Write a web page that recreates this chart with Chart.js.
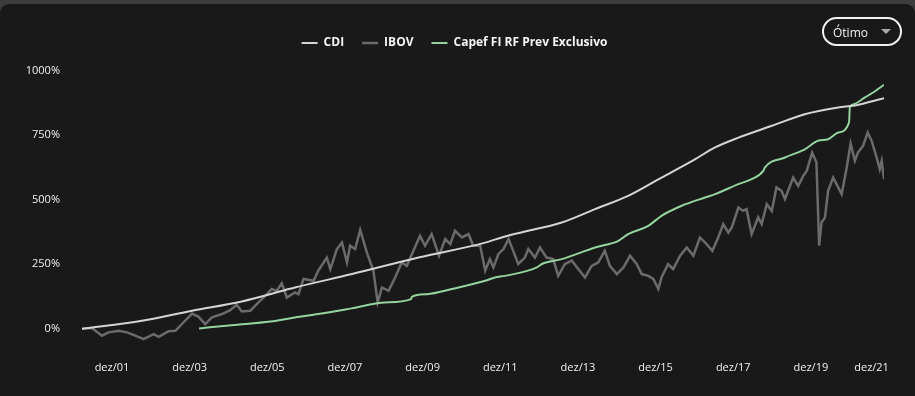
<!DOCTYPE html>
<html>
<head>
<meta charset="utf-8">
<script src="https://cdn.jsdelivr.net/npm/chart.js@4.4.0/dist/chart.umd.min.js"></script>
<style>
  html, body { margin: 0; padding: 0; background: #3d3d3d; width: 915px; height: 396px; overflow: hidden; }
  #panel { position: absolute; left: 0; top: 4px; width: 915px; height: 400px; background: #191919; border-radius: 9px 9px 0 0; }
  #wrap { position: absolute; left: 0; top: 0; width: 915px; height: 396px; }
  #sel { position: absolute; left: 822px; top: 17px; width: 76px; height: 25px; border: 2px solid #f2f2f2; border-radius: 15px;
         font-family: "Open Sans", sans-serif; font-size: 12px; color: #f2f2f2; box-sizing: content-box; }
  #sel span { position: absolute; left: 9px; top: 5px; }
  #sel i { position: absolute; left: 57px; top: 10px; width: 0; height: 0; border-left: 5px solid transparent; border-right: 5px solid transparent; border-top: 5px solid #a8a8a8; }
</style>
</head>
<body>
<div id="panel"></div>
<div id="wrap"><canvas id="c" width="915" height="396"></canvas></div>
<div id="sel"><span>Ótimo</span><i></i></div>
<script>
// ---- data (x = decimal year, y = accumulated return %) ----
const seriesNames = ["CDI", "IBOV", "Capef FI RF Prev Exclusivo"];

const cdiT = [2001.145, 2002.69, 2003.98, 2005.26, 2006.38, 2006.63, 2008.10, 2009.81, 2011.53, 2012.04, 2012.64, 2013.50, 2014.36, 2015.21, 2016.07, 2016.93, 2017.45, 2018.05, 2018.91, 2019.76, 2020.62, 2021.05, 2021.80];
const cdiV = [0, 31, 70, 106, 150, 160, 212, 276, 334, 358, 380, 412, 464, 515, 586, 657, 703, 741, 787, 832, 858, 866, 894];

const ibovT = [2001.145, 2001.40, 2001.66, 2001.83, 2002.09, 2002.30, 2002.52, 2002.73, 2002.99, 2003.12, 2003.37, 2003.55, 2003.80, 2003.98, 2004.15, 2004.32, 2004.49, 2004.75, 2004.96, 2005.13, 2005.26, 2005.48, 2005.69, 2005.91, 2006.03, 2006.16, 2006.29, 2006.42, 2006.63, 2006.72, 2006.85, 2007.11, 2007.23, 2007.45, 2007.54, 2007.71, 2007.84, 2007.97, 2008.05, 2008.18, 2008.31, 2008.48, 2008.65, 2008.76, 2008.87, 2009.04, 2009.21, 2009.38, 2009.51, 2009.68, 2009.85, 2009.98, 2010.15, 2010.34, 2010.50, 2010.63, 2010.75, 2010.93, 2011.10, 2011.22, 2011.40, 2011.53, 2011.65, 2011.74, 2011.87, 2012.00, 2012.13, 2012.25, 2012.38, 2012.55, 2012.64, 2012.81, 2012.94, 2013.11, 2013.28, 2013.41, 2013.58, 2013.76, 2013.93, 2014.10, 2014.27, 2014.44, 2014.61, 2014.74, 2014.92, 2015.09, 2015.26, 2015.43, 2015.56, 2015.73, 2015.86, 2015.99, 2016.07, 2016.24, 2016.37, 2016.55, 2016.72, 2016.89, 2017.06, 2017.23, 2017.38, 2017.53, 2017.66, 2017.79, 2017.88, 2018.05, 2018.17, 2018.26, 2018.39, 2018.56, 2018.65, 2018.78, 2018.91, 2019.03, 2019.16, 2019.25, 2019.46, 2019.59, 2019.72, 2019.81, 2019.95, 2020.06, 2020.13, 2020.19, 2020.28, 2020.36, 2020.49, 2020.62, 2020.71, 2020.84, 2020.94, 2021.05, 2021.13, 2021.26, 2021.38, 2021.48, 2021.61, 2021.69, 2021.74, 2021.80];
const ibovV = [0, 3, -27, -14, -8, -14, -27, -40, -21, -31, -10, -8, 31, 59, 46, 18, 44, 57, 72, 93, 67, 70, 102, 134, 154, 147, 176, 121, 141, 134, 193, 186, 225, 276, 231, 309, 334, 257, 322, 309, 383, 296, 225, 102, 160, 147, 199, 257, 244, 302, 360, 322, 367, 283, 348, 328, 380, 354, 367, 322, 322, 225, 270, 238, 290, 309, 348, 302, 251, 276, 309, 276, 315, 276, 270, 205, 251, 264, 231, 199, 244, 257, 302, 244, 212, 238, 283, 251, 212, 205, 193, 154, 199, 251, 231, 283, 315, 283, 354, 328, 302, 354, 406, 373, 393, 470, 457, 464, 367, 432, 406, 483, 457, 548, 535, 503, 586, 554, 593, 612, 683, 645, 322, 412, 432, 535, 586, 548, 522, 625, 718, 651, 683, 709, 761, 729, 664, 619, 651, 580];

const capefT = [2004.16, 2005.00, 2006.00, 2006.63, 2007.23, 2008.09, 2008.95, 2009.62, 2009.64, 2010.03, 2010.67, 2011.53, 2011.78, 2012.04, 2012.86, 2012.99, 2013.50, 2014.36, 2014.96, 2015.21, 2015.73, 2016.07, 2016.59, 2017.19, 2017.45, 2018.05, 2018.39, 2018.69, 2018.73, 2019.25, 2019.76, 2020.10, 2020.36, 2020.62, 2020.90, 2020.92, 2021.01, 2021.31, 2021.56, 2021.80];
const capefV = [1, 14, 28, 44, 57, 79, 102, 115, 124, 134, 154, 186, 199, 205, 238, 251, 270, 315, 341, 367, 399, 438, 477, 509, 522, 561, 580, 612, 625, 664, 696, 729, 735, 761, 800, 858, 870, 897, 920, 946];

const xTickPos = [2001.917, 2003.917, 2005.917, 2007.917, 2009.917, 2011.917, 2013.917, 2015.917, 2017.917, 2019.917, 2021.48];
const xTickLabels = ["dez/01", "dez/03", "dez/05", "dez/07", "dez/09", "dez/11", "dez/13", "dez/15", "dez/17", "dez/19", "dez/21"];
const yTicks = [0, 250, 500, 750, 1000];

const colors = ["#d4d4d4", "#6b6b6b", "#96d39e"];

function pts(t, v) { return t.map((x, i) => ({ x: x, y: v[i] })); }

const ds = [
  { label: seriesNames[0], data: pts(cdiT, cdiV), borderColor: colors[0], backgroundColor: colors[0], borderWidth: 2, order: 0, cubicInterpolationMode: 'monotone' },
  { label: seriesNames[1], data: pts(ibovT, ibovV), borderColor: colors[1], backgroundColor: colors[1], borderWidth: 2.5, order: 2, tension: 0 },
  { label: seriesNames[2], data: pts(capefT, capefV), borderColor: colors[2], backgroundColor: colors[2], borderWidth: 2, order: 1, cubicInterpolationMode: 'monotone' }
];
ds.forEach(d => { d.pointRadius = 0; d.pointHoverRadius = 0; d.fill = false; });

Chart.defaults.font.family = "'Open Sans', sans-serif";

new Chart(document.getElementById('c'), {
  type: 'line',
  data: { datasets: ds },
  options: {
    responsive: false,
    animation: false,
    events: [],
    layout: { padding: { left: 25, right: 31, top: 19, bottom: 8 } },
    plugins: {
      tooltip: { enabled: false },
      legend: {
        position: 'top',
        align: 'center',
        labels: {
          color: '#f5f5f5',
          font: { size: 12, weight: 'bold' },
          usePointStyle: true,
          pointStyle: 'line',
          pointStyleWidth: 16,
          padding: 18,
          sort: (a, b) => a.datasetIndex - b.datasetIndex
        }
      }
    },
    scales: {
      x: {
        type: 'linear',
        min: 2001.145,
        max: 2021.80,
        grid: { display: false, drawTicks: false },
        border: { display: false },
        afterBuildTicks: (axis) => { axis.ticks = xTickPos.map(v => ({ value: v })); },
        ticks: {
          autoSkip: false,
          maxRotation: 0,
          padding: 14,
          color: '#f0f0f0',
          font: { size: 11 },
          callback: (v, i) => xTickLabels[i]
        }
      },
      y: {
        type: 'linear',
        min: -70,
        max: 1046,
        grid: { display: false, drawTicks: false },
        border: { display: false },
        afterBuildTicks: (axis) => { axis.ticks = yTicks.map(v => ({ value: v })); },
        afterFit: (axis) => { axis.width = 57; },
        ticks: {
          padding: 22,
          color: '#f0f0f0',
          font: { size: 11 },
          callback: (v) => v + '%'
        }
      }
    }
  }
});
</script>
</body>
</html>
